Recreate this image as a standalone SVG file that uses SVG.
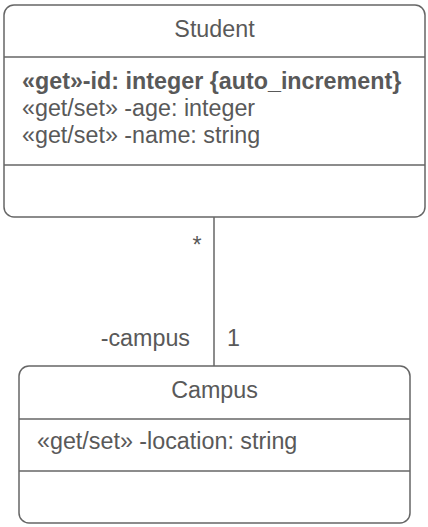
<svg xmlns="http://www.w3.org/2000/svg" width="428" height="527" viewBox="0 0 428 527">
<style>
.box{fill:#fff;stroke:#666;stroke-width:1.5}
.div{stroke:#666;stroke-width:1.5}
text{font-family:"Liberation Sans",Arial,sans-serif;font-size:23.3px;fill:#595959}
.t{text-anchor:middle}
.b{font-weight:bold}
</style>
<rect width="428" height="527" fill="#fff"/>
<g id="connectors">
<line x1="214" y1="217" x2="214" y2="366" class="div"/>
<text x="201.5" y="253" text-anchor="end">*</text>
<text x="190" y="346" text-anchor="end">-campus</text>
<text x="227" y="346">1</text>
</g>
<g id="Student">
<rect x="4" y="5" width="421" height="212" rx="10" class="box"/>
<line x1="4" y1="57" x2="425" y2="57" class="div"/>
<line x1="4" y1="165" x2="425" y2="165" class="div"/>
<text x="214.5" y="37" class="t">Student</text>
<text x="22" y="89" class="b">«get»-id: integer {auto_increment}</text>
<text x="22" y="116">«get/set» -age: integer</text>
<text x="22" y="143">«get/set» -name: string</text>
</g>
<g id="Campus">
<rect x="19" y="366" width="391" height="157" rx="10" class="box"/>
<line x1="19" y1="419" x2="410" y2="419" class="div"/>
<line x1="19" y1="471" x2="410" y2="471" class="div"/>
<text x="214.5" y="398" class="t">Campus</text>
<text x="37" y="449">«get/set» -location: string</text>
</g>
</svg>
